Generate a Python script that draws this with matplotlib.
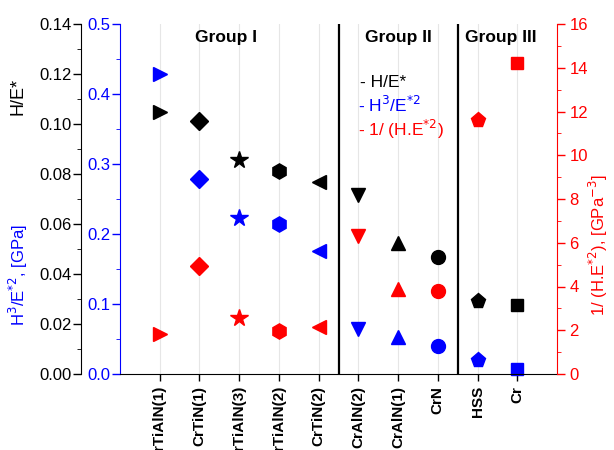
import matplotlib
matplotlib.use("Agg")
import matplotlib.pyplot as plt
from matplotlib.ticker import MultipleLocator, FormatStrFormatter

plt.rcParams["font.family"] = ["Liberation Sans", "DejaVu Sans"]

samples = ["CrTiAlN(1)", "CrTiN(1)", "CrTiAlN(3)", "CrTiAlN(2)", "CrTiN(2)",
           "CrAlN(2)", "CrAlN(1)", "CrN", "HSS", "Cr"]
markers = [">", "D", "*", "h", "<", "v", "^", "o", "p", "s"]
h_e = [0.1048, 0.1012, 0.0856, 0.0812, 0.0768, 0.0716, 0.0524, 0.0468, 0.0292, 0.0276]
h3_e2 = [0.4286, 0.2786, 0.2229, 0.214, 0.1757, 0.0643, 0.0529, 0.040, 0.020, 0.0075]
inv_he2 = [1.83, 4.94, 2.56, 1.97, 2.15, 6.31, 3.89, 3.79, 11.6, 14.2]
groups = ["Group I", "Group II", "Group III"]

fig = plt.figure(figsize=(6.14, 4.5), dpi=100)
ax = fig.add_axes([120 / 614, 76 / 450, 437 / 614, 350 / 450])
ax_k = ax.twinx()
ax_r = ax.twinx()

xs = list(range(1, len(samples) + 1))

# gridlines and group separators
for x in xs:
    ax.axvline(x, color="#e6e6e6", lw=0.8, zorder=0)
for x in (5.5, 8.5):
    ax.axvline(x, color="black", lw=1.6, zorder=1)

ms = {"*": 13, "h": 11, "p": 11, "o": 10, "s": 9, "D": 9}
for x, m, a, b, c in zip(xs, markers, h_e, h3_e2, inv_he2):
    s = ms.get(m, 10)
    ax_k.plot(x, a, marker=m, color="black", ms=s, ls="none", clip_on=False)
    ax.plot(x, b, marker=m, color="blue", ms=s, ls="none", clip_on=False)
    ax_r.plot(x, c, marker=m, color="red", ms=s, ls="none", clip_on=False)

ax.set_xlim(0, 11)
ax.set_xticks(xs)
ax.set_xticklabels(samples, rotation=90, fontweight="bold", fontsize=11)
ax.tick_params(axis="x", direction="out", length=5, width=1)

# blue axis
ax.set_ylim(0, 0.5)
ax.yaxis.set_major_locator(MultipleLocator(0.1))
ax.yaxis.set_minor_locator(MultipleLocator(0.05))
ax.yaxis.set_major_formatter(FormatStrFormatter("%.1f"))
ax.tick_params(axis="y", colors="blue", labelsize=12, length=6, width=1, pad=1)
ax.tick_params(axis="y", which="minor", colors="blue", length=3)
ax.spines["left"].set_color("blue")
ax.spines["top"].set_visible(False)
ax.spines["right"].set_visible(False)

# black axis
ax_k.set_ylim(0, 0.14)
ax_k.yaxis.set_ticks_position("left")
ax_k.spines["left"].set_position(("axes", -0.089))
ax_k.spines["left"].set_visible(True)
for s in ("right", "top", "bottom"):
    ax_k.spines[s].set_visible(False)
ax_k.yaxis.set_major_locator(MultipleLocator(0.02))
ax_k.yaxis.set_minor_locator(MultipleLocator(0.01))
ax_k.yaxis.set_major_formatter(FormatStrFormatter("%.2f"))
ax_k.tick_params(axis="y", labelsize=12, length=6, width=1, pad=1)
ax_k.tick_params(axis="y", which="minor", length=3)

# red axis
ax_r.set_ylim(0, 16)
ax_r.spines["right"].set_color("red")
for s in ("left", "top", "bottom"):
    ax_r.spines[s].set_visible(False)
ax_r.yaxis.set_major_locator(MultipleLocator(2))
ax_r.yaxis.set_minor_locator(MultipleLocator(1))
ax_r.tick_params(axis="y", colors="red", labelsize=12, length=6, width=1, pad=3)
ax_r.tick_params(axis="y", which="minor", colors="red", length=3)

# axis titles
fig.text(18 / 614, 1 - 96 / 450, "H/E*", rotation=90, ha="center", va="center", fontsize=13)
fig.text(18 / 614, 1 - 275 / 450, "H$^3$/E$^{*2}$, [GPa]", rotation=90, ha="center",
         va="center", fontsize=12, color="blue")
fig.text(598 / 614, 1 - 245 / 450, "1/ (H.E$^{*2}$), [GPa$^{\\mathrm{-}3}$]", rotation=90,
         ha="center", va="center", fontsize=12, color="red")

# group labels
for g, gx in zip(groups, (2.67, 7.0, 9.58)):
    ax.text(gx, 0.481, g, ha="center", va="center", fontsize=12.5, fontweight="bold")

# legend
ax.text(6.05, 0.417, "- H/E*", color="black", fontsize=12.5, va="center")
ax.text(5.98, 0.385, "- H$^3$/E$^{*2}$", color="blue", fontsize=12.5, va="center")
ax.text(6.0, 0.35, "- 1/ (H.E$^{*2}$)", color="red", fontsize=12.5, va="center")

fig.savefig("out.png", dpi=100)
